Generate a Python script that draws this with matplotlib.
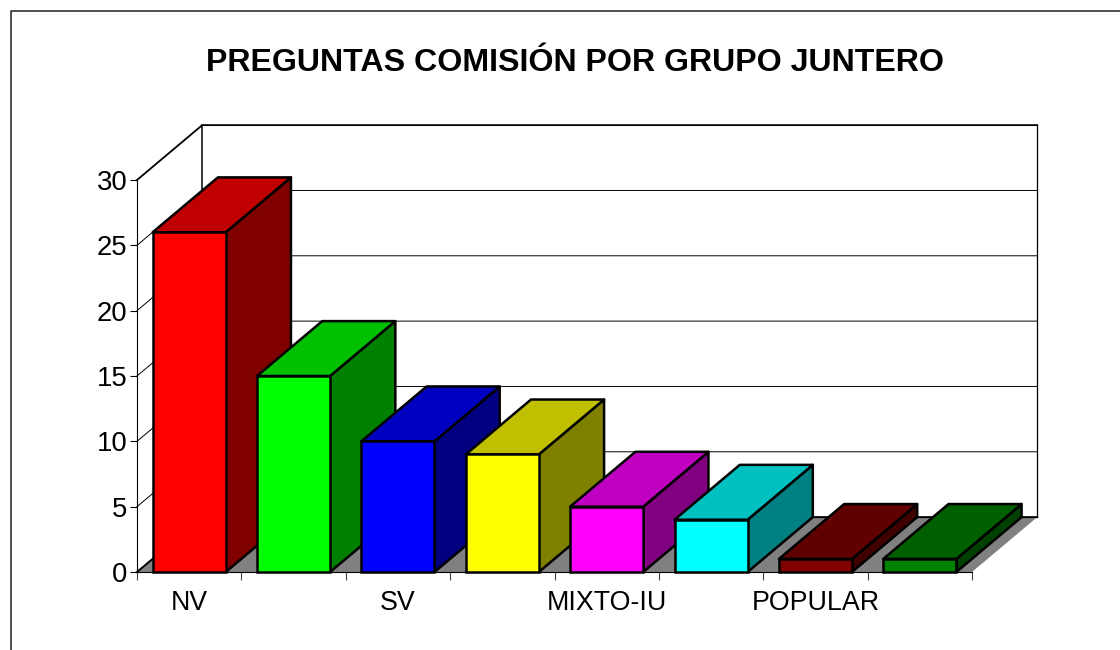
import matplotlib
matplotlib.use('Agg')
from matplotlib import pyplot as plt
from matplotlib.lines import Line2D

plt.rcParams['font.family'] = ['Liberation Sans', 'DejaVu Sans']

titulo = 'PREGUNTAS COMISIÓN POR GRUPO JUNTERO'
grupos = ['NV', '', 'SV', '', 'MIXTO-IU', '', 'POPULAR', '']
preguntas = [26, 15, 10, 9, 5, 4, 1, 1]
colores_frente = ['#ff0000', '#00ff00', '#0000ff', '#ffff00', '#ff00ff', '#00ffff', '#800000', '#008000']
colores_arriba = ['#c00000', '#00c000', '#0000c0', '#c0c000', '#c000c0', '#00c0c0', '#600000', '#006000']
colores_lado = ['#800000', '#008000', '#000080', '#808000', '#800080', '#008080', '#400000', '#004000']
marcas_y = [0, 5, 10, 15, 20, 25, 30]

W, H = 1120, 650
ANCHO_BARRA = 0.70
FONDO_X = 0.625  # desplazamiento de la perspectiva, en categorias
FONDO_Y = 4.2    # desplazamiento de la perspectiva, en preguntas

fig = plt.figure(figsize=(W / 100, H / 100), dpi=100, facecolor='white')
ax = fig.add_axes([137 / W, (H - 572) / H, (972 - 137) / W, (572 - 180) / H])
ax.set_xlim(0, len(preguntas))
ax.set_ylim(0, marcas_y[-1])
ax.patch.set_visible(False)

# marco exterior, cortado por los bordes de la imagen
fig.add_artist(Line2D([10.6 / W, 10.6 / W, 1], [0, 1 - 11 / H, 1 - 11 / H], color='#222222', lw=1.1))

n = len(preguntas)
tope = marcas_y[-1]

# suelo
ax.fill([0, n, n + FONDO_X, FONDO_X], [0, 0, FONDO_Y, FONDO_Y], color='#808080', lw=0, zorder=1, clip_on=False)

# paredes y rejilla
for v in marcas_y[1:-1]:
    ax.plot([0, FONDO_X, n + FONDO_X], [v, v + FONDO_Y, v + FONDO_Y], color='black', lw=0.7, zorder=1.5, clip_on=False)
ax.plot([0, FONDO_X, n + FONDO_X], [tope, tope + FONDO_Y, tope + FONDO_Y],
        color='black', lw=1.3, zorder=1.5, clip_on=False)
ax.plot([n + FONDO_X, n + FONDO_X], [tope + FONDO_Y, FONDO_Y], color='black', lw=0.9, zorder=1.5, clip_on=False)
ax.plot([FONDO_X, FONDO_X], [FONDO_Y, tope + FONDO_Y], color='black', lw=1.1, zorder=1.5, clip_on=False)
ax.plot([0, FONDO_X, n + FONDO_X], [0, FONDO_Y, FONDO_Y], color='black', lw=1.4, zorder=1.5, clip_on=False)

# barras, de izquierda a derecha para que cada una tape a la anterior
for i, valor in enumerate(preguntas):
    x0 = i + 0.5 - ANCHO_BARRA / 2
    x1 = x0 + ANCHO_BARRA
    z = 2 + i
    ax.fill([x1, x1 + FONDO_X, x1 + FONDO_X, x1], [0, FONDO_Y, valor + FONDO_Y, valor],
            facecolor=colores_lado[i], edgecolor='black', lw=1.8, joinstyle='round', zorder=z, clip_on=False)
    ax.fill([x0, x1, x1 + FONDO_X, x0 + FONDO_X], [valor, valor, valor + FONDO_Y, valor + FONDO_Y],
            facecolor=colores_arriba[i], edgecolor='black', lw=1.8, joinstyle='round', zorder=z, clip_on=False)
    ax.bar(i + 0.5, valor, width=ANCHO_BARRA, color=colores_frente[i], edgecolor='black', lw=1.8, zorder=z, clip_on=False)

# ejes
for lado in ['top', 'right']:
    ax.spines[lado].set_visible(False)
for lado in ['left', 'bottom']:
    ax.spines[lado].set_linewidth(0.8)
    ax.spines[lado].set_zorder(1.6)
ax.set_yticks(marcas_y)
ax.set_xticks(range(n + 1))
ax.set_xticklabels([])
ax.set_xticks([i + 0.5 for i in range(n)], labels=grupos, minor=True)
ax.tick_params(axis='y', length=5, width=0.8, pad=2, labelsize=19.8)
ax.tick_params(axis='x', which='major', length=5.5, width=0.8, color='#444444')
ax.tick_params(axis='x', which='minor', length=0, pad=13, labelsize=19.3)

fig.text(575.5 / W, 1 - 63 / H, titulo, fontsize=23.1, fontweight='bold', ha='center', va='center')

fig.savefig('out.png', dpi=100)
